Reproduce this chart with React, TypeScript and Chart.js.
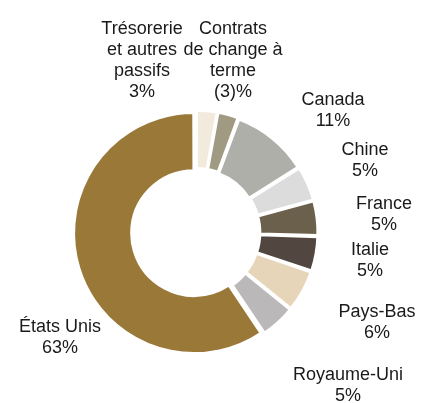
import React, { useEffect, useRef } from "react";
import { Chart, registerables } from "chart.js";

Chart.register(...registerables);

const categories = [
  "Trésorerie\net autres\npassifs",
  "Contrats\nde change à\nterme",
  "Canada",
  "Chine",
  "France",
  "Italie",
  "Pays-Bas",
  "Royaume-Uni",
  "États Unis",
];
const values = [3, -3, 11, 5, 5, 5, 6, 5, 63];
const colors = [
  "#F2EBDD",
  "#A09A83",
  "#AEAFA8",
  "#DCDCDC",
  "#6B604B",
  "#514740",
  "#E6D5B8",
  "#BBB8B9",
  "#9A7838",
];
// label anchor (first line centre) relative to the doughnut centre
const labelOffsets = [
  [-54, -205.5],
  [37, -205.5],
  [137, -134.5],
  [169, -84.5],
  [188, -30.5],
  [174, 15.5],
  [181, 77.5],
  [152, 140.5],
  [-136, 92.5],
];

const fmt = (v: number) => (v < 0 ? `(${Math.abs(v)})%` : `${v}%`);

const labelPlugin = {
  id: "sliceLabels",
  afterDatasetsDraw(chart: any) {
    const meta = chart.getDatasetMeta(0);
    const arc = meta.data[0];
    if (!arc) return;
    const cx = arc.x;
    const cy = arc.y;
    const ctx = chart.ctx;
    ctx.save();
    ctx.font = '18px "Liberation Sans", Arial, sans-serif';
    ctx.fillStyle = "#1a1a1a";
    ctx.textAlign = "center";
    ctx.textBaseline = "alphabetic";
    const lh = 21;
    categories.forEach((c, i) => {
      const lines = [...c.split("\n"), fmt(values[i])];
      const [dx, dy] = labelOffsets[i];
      lines.forEach((ln, j) => {
        ctx.fillText(ln, cx + dx, cy + dy + 6.5 + j * lh);
      });
    });
    ctx.restore();
  },
};

export default function App() {
  const ref = useRef<HTMLCanvasElement>(null);
  useEffect(() => {
    if (!ref.current) return;
    const chart = new Chart(ref.current, {
      type: "doughnut",
      data: {
        labels: categories.map((c) => c.replace(/\n/g, " ")),
        datasets: [
          {
            data: values.map((v) => Math.abs(v)),
            backgroundColor: colors,
            borderColor: "#ffffff",
            borderWidth: 3,
            offset: 8,
          },
        ],
      },
      options: {
        responsive: false,
        animation: false,
        radius: 118.5,
        cutout: "51%",
        layout: { padding: { left: 0, right: 29, top: 62, bottom: 0 } },
        plugins: {
          legend: { display: false },
          tooltip: { enabled: false },
        },
      },
      plugins: [labelPlugin],
    });
    return () => chart.destroy();
  }, []);
  return (
    <div style={{ position: "fixed", left: 0, top: 0, width: 421, height: 403, background: "#fff" }}>
      <canvas ref={ref} width={421} height={403} />
    </div>
  );
}
